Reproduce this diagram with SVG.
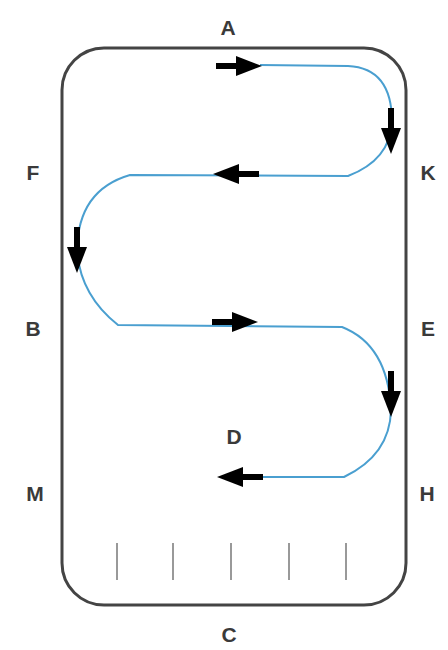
<svg xmlns="http://www.w3.org/2000/svg" width="448" height="650" viewBox="0 0 448 650">
<style>
.lbl{font-family:"Liberation Sans",Arial,sans-serif;font-size:21px;font-weight:bold;fill:#3a3a3a;text-anchor:middle}
.arr{fill:#000}
.tick{stroke:#999;stroke-width:2}
</style>
<defs>
<g id="ar"><rect x="0" y="-3" width="22" height="6"/><polygon points="20,-10 46,0 20,10"/></g>
</defs>
<rect width="448" height="650" fill="#fff"/>
<g id="arena"><rect x="62" y="48" width="344" height="557" rx="42" ry="42" fill="none" stroke="#444" stroke-width="3"/></g>
<g id="ticks">
<line class="tick" x1="117" y1="543" x2="117" y2="580"/>
<line class="tick" x1="173" y1="543" x2="173" y2="580"/>
<line class="tick" x1="231" y1="543" x2="231" y2="580"/>
<line class="tick" x1="289" y1="543" x2="289" y2="580"/>
<line class="tick" x1="346" y1="543" x2="346" y2="580"/>
</g>
<g id="connectors">
<path d="M260,65 L348,66 Q392,68 392,122 Q390,160 348,176 L130,175 Q78,190 77,250 Q80,295 118,325 L342,327 Q388,345 391,410 Q390,455 344,477 L263,477" fill="none" stroke="#4a9fd0" stroke-width="2"/>
<g class="arr">
<use href="#ar" transform="translate(216,66)"/>
<use href="#ar" transform="translate(391,108) rotate(90)"/>
<use href="#ar" transform="translate(259,174) rotate(180)"/>
<use href="#ar" transform="translate(77,227) rotate(90)"/>
<use href="#ar" transform="translate(212,322)"/>
<use href="#ar" transform="translate(391,371) rotate(90)"/>
<use href="#ar" transform="translate(263,477) rotate(180)"/>
</g>
</g>
<g id="labels">
<text class="lbl" x="228" y="35">A</text>
<text class="lbl" x="33" y="180">F</text>
<text class="lbl" x="428" y="180">K</text>
<text class="lbl" x="33" y="336">B</text>
<text class="lbl" x="428" y="336">E</text>
<text class="lbl" x="234" y="444">D</text>
<text class="lbl" x="35" y="501">M</text>
<text class="lbl" x="427" y="501">H</text>
<text class="lbl" x="229" y="642">C</text>
</g>
</svg>
